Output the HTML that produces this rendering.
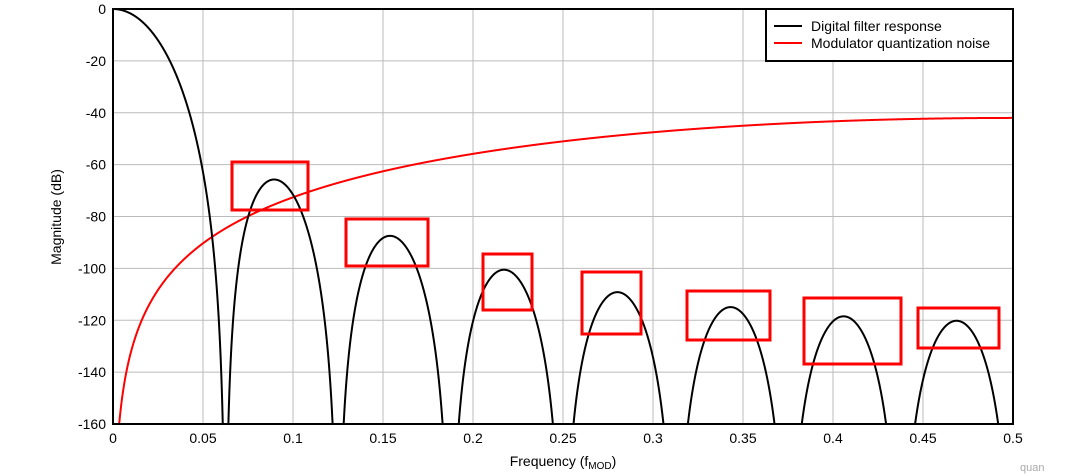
<!DOCTYPE html>
<html><head><meta charset="utf-8"><style>
html,body{margin:0;padding:0;background:#fff;}
svg{display:block;font-family:"Liberation Sans",Arial,sans-serif;}
</style></head><body>
<svg id="s" width="1080" height="476" viewBox="0 0 1080 476" xmlns="http://www.w3.org/2000/svg">
<defs><clipPath id="c"><rect x="113" y="9" width="900" height="415"/></clipPath></defs>
<g id="grid" stroke="#bbb" stroke-width="1"></g>
<g clip-path="url(#c)">
<path id="red" fill="none" stroke="#f00" stroke-width="2"/>
<path id="blk" fill="none" stroke="#000" stroke-width="2"/>
</g>
<rect x="113" y="9" width="900" height="415" fill="none" stroke="#000" stroke-width="2"/>
<g fill="none" stroke="#f00" stroke-width="3">
<rect x="232" y="162" width="76" height="48"/>
<rect x="346" y="219" width="82" height="47"/>
<rect x="483" y="254" width="49" height="56"/>
<rect x="582" y="272" width="59" height="62"/>
<rect x="687" y="291" width="83" height="49"/>
<rect x="804" y="298" width="97" height="66"/>
<rect x="918" y="308" width="81" height="40"/>
</g>
<rect x="766" y="9" width="247" height="52" fill="#fff" stroke="#000" stroke-width="2"/>
<line x1="774" y1="26" x2="802" y2="26" stroke="#000" stroke-width="2"/>
<line x1="774" y1="43" x2="802" y2="43" stroke="#f00" stroke-width="2"/>
<text x="811" y="31" font-size="14">Digital filter response</text>
<text x="811" y="48" font-size="14">Modulator quantization noise</text>
<g id="lab" font-size="14" fill="#000"></g>
<text transform="translate(61,217) rotate(-90)" font-size="14" text-anchor="middle">Magnitude (dB)</text>
<text x="563" y="466" font-size="14" text-anchor="middle">Frequency (f<tspan font-size="10" dy="3">MOD</tspan><tspan dy="-3">)</tspan></text>
<text x="1020" y="471" font-size="11" fill="#aaa">quan</text>
</svg>
<script>
var X=function(f){return 113+f*1800;},Y=function(d){return 9-d*415/160;};
var g=document.getElementById('grid'),l=document.getElementById('lab'),ns='http://www.w3.org/2000/svg';
function el(p,t,a,txt){var e=document.createElementNS(ns,t);for(var k in a)e.setAttribute(k,a[k]);if(txt!==undefined)e.textContent=txt;p.appendChild(e);}
for(var i=1;i<10;i++)el(g,'line',{x1:X(i*0.05),x2:X(i*0.05),y1:9,y2:424});
for(var j=1;j<8;j++)el(g,'line',{x1:113,x2:1013,y1:Y(-20*j),y2:Y(-20*j)});
var xl=['0','0.05','0.1','0.15','0.2','0.25','0.3','0.35','0.4','0.45','0.5'];
for(var i=0;i<=10;i++)el(l,'text',{x:X(i*0.05),y:443,'text-anchor':'middle'},xl[i]);
for(var j=0;j<=8;j++)el(l,'text',{x:106,y:Y(-20*j)+5,'text-anchor':'end'},j==0?'0':String(-20*j));
var b='',r='';
for(var k=0;k<=9000;k++){var f=k/18000;var d;
 if(f==0)d=0;else{var v=Math.abs(Math.sin(16*Math.PI*f)/(16*Math.sin(Math.PI*f)));d=v<1e-12?-400:100*Math.log10(v);}
 if(d<-170)d=-170;b+=(k?'L':'M')+X(f).toFixed(2)+' '+Y(d).toFixed(2);
 if(f>0.003){var n=-60.06+60*Math.log10(2*Math.sin(Math.PI*f));if(n<-170)n=-170;r+=(r?'L':'M')+X(f).toFixed(2)+' '+Y(n).toFixed(2);}
}
document.getElementById('blk').setAttribute('d',b);document.getElementById('red').setAttribute('d',r);
</script>
</body></html>
